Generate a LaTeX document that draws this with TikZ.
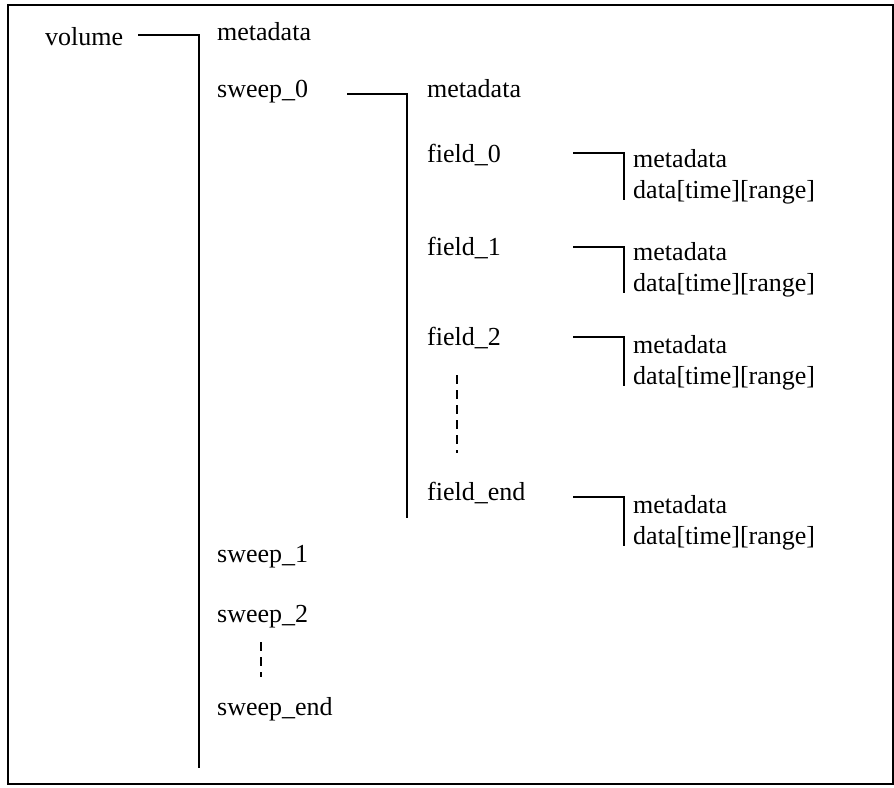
\documentclass[tikz,border=0pt]{standalone}
\usepackage{fontspec}
\setmainfont{Liberation Serif}
\usetikzlibrary{positioning}
\tikzset{
  item/.style={anchor=base west,inner sep=0pt,font=\fontsize{26}{31}\selectfont},
  branch/.style={draw,line width=1.6pt},
  dots/.style={draw,line width=1.3pt,dash pattern=on 9pt off 6pt},
}

\begin{document}
\begin{tikzpicture}[x=1pt,y=-1pt]
\useasboundingbox (0,0) rectangle (894,787);
\draw[line width=2pt] (8,5) rectangle (893,784);
% top level
\node[item] (volume) at (45,45) {volume};
\node[item] (vmeta) at (217,40) {metadata};
\node[item] (sweep0) at (217,97) {sweep\_0};
\node[item] (sweep1) at (217,562) {sweep\_1};
\node[item] (sweep2) at (217,622) {sweep\_2};
\node[item] (sweepend) at (217,715) {sweep\_end};
\coordinate (vcorner) at (199,35);
\coordinate (vend) at (199,768);
\draw[branch] (volume.base -| 138,0) ++(0,-10) -- (vcorner) -- (vend);
\draw[dots] (261,642) -- (261,677);
% sweep level
\node[item] (smeta) at (427,97) {metadata};
\coordinate (scorner) at (407,94);
\coordinate (send) at (407,518);
\coordinate (sstart) at (347,94);
\draw[branch] (sstart) -- (scorner) -- (send);
\draw[dots] (457,375) -- (457,453);
% field level
\coordinate (fstart) at (573,0);
\foreach \n/\t/\y/\c/\m in {0/field\_0/162/153/167, 1/field\_1/255/247/260,
  2/field\_2/345/337/353, end/field\_end/500/497/513}
{
  \node[item] (field\n) at (427,\y) {\t};
  \coordinate (fcorner\n) at (624,\c);
  \node[item] (fmeta\n) at (633,\m) {metadata};
  \node[item] (fdata\n) at (633,\m+31) {data[time][range]};
  \draw[branch] (fcorner\n -| fstart) -- (fcorner\n) -- (fcorner\n |- fdata\n.base) -- ++(0,2);
}
\end{tikzpicture}
\end{document}
